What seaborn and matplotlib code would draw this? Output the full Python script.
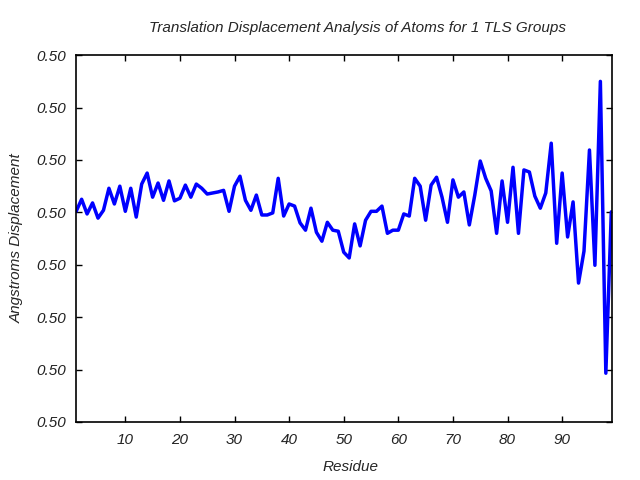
import numpy as np
import pandas as pd
import matplotlib
matplotlib.use('Agg')
import matplotlib.pyplot as plt
import seaborn as sns

# --- DATA ---
residues = list(range(1, 100))
displacement = [
    4.02, 4.25, 3.97, 4.18, 3.89, 4.04, 4.46, 4.16, 4.50, 4.02,
    4.46, 3.91, 4.54, 4.75, 4.29, 4.56, 4.23, 4.60, 4.22, 4.27,
    4.52, 4.29, 4.54, 4.46, 4.35, 4.37, 4.39, 4.42, 4.02, 4.50,
    4.69, 4.23, 4.04, 4.33, 3.95, 3.95, 3.99, 4.65, 3.93, 4.16,
    4.12, 3.80, 3.66, 4.08, 3.62, 3.45, 3.81, 3.66, 3.64, 3.24,
    3.13, 3.78, 3.36, 3.85, 4.02, 4.02, 4.12, 3.60, 3.66, 3.66,
    3.97, 3.93, 4.65, 4.50, 3.85, 4.52, 4.67, 4.29, 3.81, 4.62,
    4.29, 4.39, 3.76, 4.33, 4.98, 4.65, 4.41, 3.60, 4.60, 3.81,
    4.86, 3.60, 4.81, 4.77, 4.31, 4.08, 4.37, 5.32, 3.41, 4.75,
    3.53, 4.20, 2.65, 3.26, 5.19, 2.99, 6.50, 0.93, 4.01,
]
xticks = [10, 20, 30, 40, 50, 60, 70, 80, 90]
yticks = [0, 1, 2, 3, 4, 5, 6, 7]
ytick_labels = ['0.50'] * len(yticks)

df = pd.DataFrame({'residue': residues, 'disp': displacement})

# --- STYLE ---
sns.set_theme(style="ticks")
plt.rcParams['font.family'] = ['Liberation Sans', 'DejaVu Sans']
plt.rcParams['font.style'] = 'italic'

fig = plt.figure(figsize=(6.4, 4.8), dpi=100)
ax = fig.add_axes([0.119, 0.121, 0.837, 0.764])

sns.lineplot(data=df, x='residue', y='disp', ax=ax, color='#0000ff', linewidth=2.5)

ax.set_xlim(1, 99.1)
ax.set_ylim(0, 7)
ax.set_xticks(xticks)
ax.set_xticklabels([str(t) for t in xticks])
ax.set_yticks(yticks)
ax.set_yticklabels(ytick_labels)
ax.tick_params(direction='in', top=True, right=True, length=4, width=1,
               labelsize=11, colors='black', labelcolor='#222222')
ax.tick_params(axis='x', pad=8)
ax.tick_params(axis='y', pad=7)
for s in ax.spines.values():
    s.set_visible(True)
    s.set_color('black')
    s.set_linewidth(1.2)

# labels sit a little right of the axes centre in the original
ax.set_title('Translation Displacement Analysis of Atoms for 1 TLS Groups',
             fontsize=11, style='italic', pad=17, x=0.525)
ax.set_xlabel('Residue', fontsize=11, style='italic', labelpad=9)
ax.xaxis.set_label_coords(0.513, -0.105)
ax.set_ylabel('Angstroms Displacement', fontsize=11, style='italic', labelpad=9)

plt.savefig('out.png', dpi=100)
